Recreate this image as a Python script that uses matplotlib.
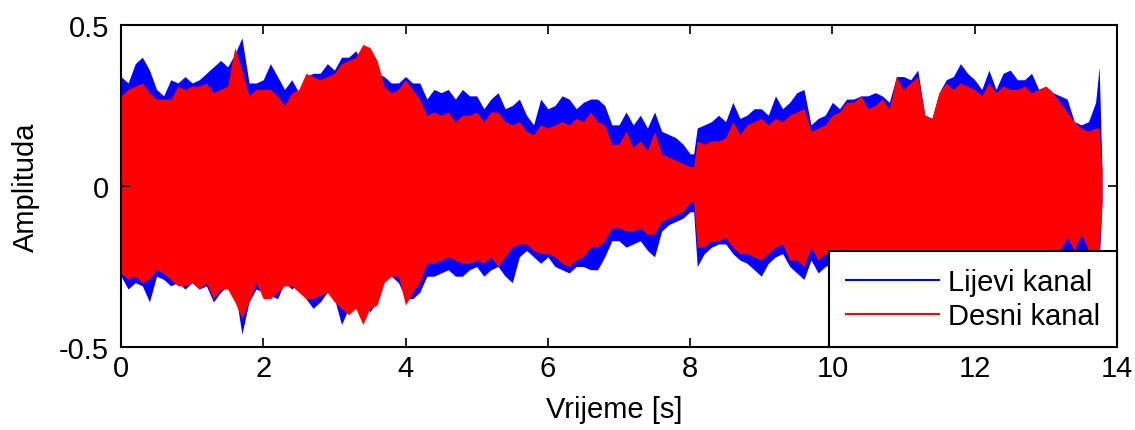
import matplotlib
matplotlib.use('Agg')
import matplotlib.pyplot as plt
from matplotlib.lines import Line2D

# Envelope of the two channels (seconds, amplitude).
time = [0.0, 0.1, 0.2, 0.3, 0.4, 0.5, 0.6, 0.7, 0.8, 0.9,
        1.0, 1.1, 1.2, 1.3, 1.4, 1.5, 1.6, 1.7, 1.8, 1.9,
        2.0, 2.1, 2.2, 2.3, 2.4, 2.5, 2.6, 2.7, 2.8, 2.9,
        3.0, 3.1, 3.2, 3.3, 3.4, 3.5, 3.6, 3.7, 3.8, 3.9,
        4.0, 4.1, 4.2, 4.3, 4.4, 4.5, 4.6, 4.7, 4.8, 4.9,
        5.0, 5.1, 5.2, 5.3, 5.4, 5.5, 5.6, 5.7, 5.8, 5.9,
        6.0, 6.1, 6.2, 6.3, 6.4, 6.5, 6.6, 6.7, 6.8, 6.9,
        7.0, 7.1, 7.2, 7.3, 7.4, 7.5, 7.6, 7.7, 7.8, 7.9,
        8.0, 8.05, 8.1, 8.2, 8.3, 8.4, 8.5, 8.6, 8.7, 8.8, 8.9,
        9.0, 9.1, 9.2, 9.3, 9.4, 9.5, 9.6, 9.7, 9.8, 9.9,
        10.0, 10.1, 10.2, 10.3, 10.4, 10.5, 10.6, 10.7, 10.8, 10.9,
        11.0, 11.1, 11.2, 11.3, 11.4, 11.5, 11.6, 11.7, 11.8, 11.9,
        12.0, 12.1, 12.2, 12.3, 12.4, 12.5, 12.6, 12.7, 12.8, 12.9,
        13.0, 13.1, 13.2, 13.3, 13.4, 13.5, 13.6, 13.7, 13.75, 13.79]

left_upper = [0.34, 0.32, 0.38, 0.40, 0.36, 0.30, 0.28, 0.33, 0.32, 0.34,
              0.32, 0.33, 0.35, 0.37, 0.39, 0.37, 0.41, 0.46, 0.32, 0.32,
              0.33, 0.38, 0.34, 0.30, 0.33, 0.29, 0.34, 0.35, 0.35, 0.38,
              0.36, 0.40, 0.40, 0.42, 0.38, 0.40, 0.35, 0.34, 0.32, 0.32,
              0.34, 0.32, 0.32, 0.27, 0.30, 0.29, 0.30, 0.27, 0.30, 0.28,
              0.28, 0.24, 0.27, 0.29, 0.24, 0.25, 0.27, 0.22, 0.19, 0.27,
              0.24, 0.25, 0.28, 0.27, 0.24, 0.26, 0.27, 0.27, 0.25, 0.19,
              0.19, 0.23, 0.19, 0.22, 0.18, 0.23, 0.17, 0.16, 0.15, 0.13,
              0.10, 0.10, 0.18, 0.19, 0.20, 0.22, 0.20, 0.26, 0.21, 0.22, 0.24,
              0.24, 0.22, 0.28, 0.24, 0.26, 0.29, 0.30, 0.19, 0.21, 0.22,
              0.26, 0.24, 0.27, 0.27, 0.28, 0.28, 0.29, 0.28, 0.26, 0.34,
              0.34, 0.33, 0.36, 0.22, 0.21, 0.29, 0.33, 0.34, 0.38, 0.35,
              0.33, 0.30, 0.36, 0.30, 0.35, 0.36, 0.33, 0.33, 0.35, 0.30,
              0.31, 0.29, 0.28, 0.27, 0.20, 0.19, 0.20, 0.26, 0.37, 0.05]
left_lower = [-0.28, -0.32, -0.30, -0.31, -0.36, -0.28, -0.29, -0.31, -0.30, -0.32,
              -0.30, -0.32, -0.31, -0.36, -0.33, -0.31, -0.32, -0.46, -0.36, -0.32,
              -0.33, -0.34, -0.35, -0.30, -0.32, -0.30, -0.35, -0.38, -0.36, -0.33,
              -0.35, -0.43, -0.38, -0.36, -0.37, -0.39, -0.36, -0.28, -0.28, -0.30,
              -0.35, -0.35, -0.33, -0.28, -0.28, -0.27, -0.26, -0.28, -0.28, -0.26,
              -0.25, -0.28, -0.26, -0.25, -0.28, -0.30, -0.22, -0.20, -0.22, -0.24,
              -0.22, -0.25, -0.26, -0.27, -0.25, -0.25, -0.26, -0.26, -0.22, -0.17,
              -0.17, -0.19, -0.18, -0.17, -0.20, -0.22, -0.14, -0.12, -0.11, -0.10,
              -0.08, -0.08, -0.25, -0.21, -0.19, -0.18, -0.18, -0.21, -0.23, -0.24, -0.26,
              -0.28, -0.24, -0.22, -0.21, -0.25, -0.27, -0.29, -0.23, -0.27, -0.25,
              -0.24, -0.25, -0.25, -0.25, -0.25, -0.25, -0.25, -0.25, -0.25, -0.25,
              -0.25, -0.25, -0.25, -0.25, -0.25, -0.25, -0.25, -0.25, -0.25, -0.25,
              -0.25, -0.25, -0.25, -0.25, -0.25, -0.25, -0.25, -0.25, -0.25, -0.25,
              -0.25, -0.25, -0.24, -0.22, -0.24, -0.22, -0.24, -0.24, -0.24, -0.05]
right_upper = [0.28, 0.30, 0.31, 0.32, 0.29, 0.27, 0.27, 0.27, 0.31, 0.30,
               0.31, 0.31, 0.32, 0.29, 0.30, 0.31, 0.43, 0.36, 0.28, 0.30,
               0.30, 0.30, 0.28, 0.25, 0.29, 0.30, 0.35, 0.34, 0.33, 0.34,
               0.35, 0.38, 0.39, 0.40, 0.44, 0.43, 0.39, 0.31, 0.29, 0.30,
               0.33, 0.30, 0.27, 0.22, 0.23, 0.22, 0.23, 0.20, 0.22, 0.22,
               0.23, 0.20, 0.23, 0.23, 0.20, 0.19, 0.20, 0.17, 0.16, 0.19,
               0.18, 0.19, 0.20, 0.19, 0.21, 0.20, 0.23, 0.20, 0.19, 0.13,
               0.13, 0.17, 0.12, 0.14, 0.11, 0.17, 0.10, 0.09, 0.08, 0.07,
               0.06, 0.06, 0.14, 0.13, 0.14, 0.14, 0.15, 0.20, 0.16, 0.19, 0.20,
               0.21, 0.19, 0.21, 0.20, 0.22, 0.23, 0.24, 0.17, 0.18, 0.19,
               0.22, 0.23, 0.26, 0.26, 0.28, 0.24, 0.25, 0.27, 0.24, 0.34,
               0.30, 0.32, 0.34, 0.22, 0.21, 0.29, 0.32, 0.30, 0.32, 0.31,
               0.30, 0.28, 0.32, 0.29, 0.31, 0.30, 0.30, 0.31, 0.29, 0.30,
               0.31, 0.29, 0.26, 0.23, 0.20, 0.18, 0.17, 0.18, 0.18, 0.05]
right_lower = [-0.27, -0.29, -0.28, -0.30, -0.29, -0.26, -0.27, -0.29, -0.31, -0.31,
               -0.30, -0.32, -0.30, -0.35, -0.32, -0.32, -0.36, -0.41, -0.36, -0.30,
               -0.35, -0.35, -0.33, -0.31, -0.31, -0.33, -0.35, -0.35, -0.34, -0.33,
               -0.36, -0.38, -0.40, -0.38, -0.43, -0.38, -0.37, -0.30, -0.28, -0.28,
               -0.37, -0.33, -0.30, -0.24, -0.24, -0.23, -0.22, -0.23, -0.24, -0.24,
               -0.23, -0.24, -0.22, -0.25, -0.22, -0.19, -0.18, -0.18, -0.20, -0.21,
               -0.21, -0.22, -0.24, -0.25, -0.23, -0.22, -0.19, -0.19, -0.17, -0.13,
               -0.13, -0.14, -0.14, -0.13, -0.15, -0.15, -0.11, -0.10, -0.09, -0.08,
               -0.05, -0.05, -0.19, -0.19, -0.17, -0.17, -0.16, -0.19, -0.21, -0.21, -0.22,
               -0.23, -0.21, -0.19, -0.18, -0.23, -0.23, -0.25, -0.19, -0.23, -0.21,
               -0.22, -0.22, -0.22, -0.22, -0.22, -0.22, -0.22, -0.22, -0.22, -0.22,
               -0.22, -0.22, -0.22, -0.22, -0.22, -0.22, -0.22, -0.22, -0.22, -0.22,
               -0.22, -0.22, -0.22, -0.22, -0.22, -0.22, -0.22, -0.22, -0.22, -0.22,
               -0.21, -0.21, -0.20, -0.16, -0.20, -0.15, -0.20, -0.20, -0.20, -0.05]

labels = ['Lijevi kanal', 'Desni kanal']
colors = ['#0000ff', '#ff0000']

plt.rcParams['font.family'] = ['Liberation Sans', 'DejaVu Sans']
fs = 21

fig = plt.figure(figsize=(11.35, 4.31), dpi=100)
ax = fig.add_axes([0.1066, 0.1926, 0.8775, 0.747])

ax.fill_between(time, left_lower, left_upper, color=colors[0], linewidth=0)
ax.fill_between(time, right_lower, right_upper, color=colors[1], linewidth=0)

ax.set_xlim(0, 14)
ax.set_ylim(-0.5, 0.5)
ax.set_xticks(range(0, 15, 2))
ax.set_yticks([-0.5, 0, 0.5])
ax.set_yticklabels(['-0.5', '0', '0.5'])
ax.tick_params(direction='in', top=True, right=True, length=6.5, width=1.2,
               labelsize=fs)
ax.tick_params(axis='x', pad=5)
ax.tick_params(axis='y', pad=8.5)
for s in ax.spines.values():
    s.set_linewidth(1.5)

ax.set_xlabel('Vrijeme [s]', fontsize=fs)
ax.set_ylabel('Amplituda', fontsize=fs)
ax.xaxis.set_label_coords(0.495, -0.149)
ax.yaxis.set_label_coords(-0.081, 0.5)

handles = [Line2D([0], [0], color=c, lw=1.5) for c in colors]
leg = ax.legend(handles, labels, loc='lower right', bbox_to_anchor=(1, 0),
                borderaxespad=0, fontsize=fs, handlelength=3.17, handletextpad=0.31,
                fancybox=False, framealpha=1, edgecolor='black',
                borderpad=0.58, labelspacing=0.2)
leg.get_frame().set_linewidth(1.5)

fig.savefig('out.png', dpi=100)
